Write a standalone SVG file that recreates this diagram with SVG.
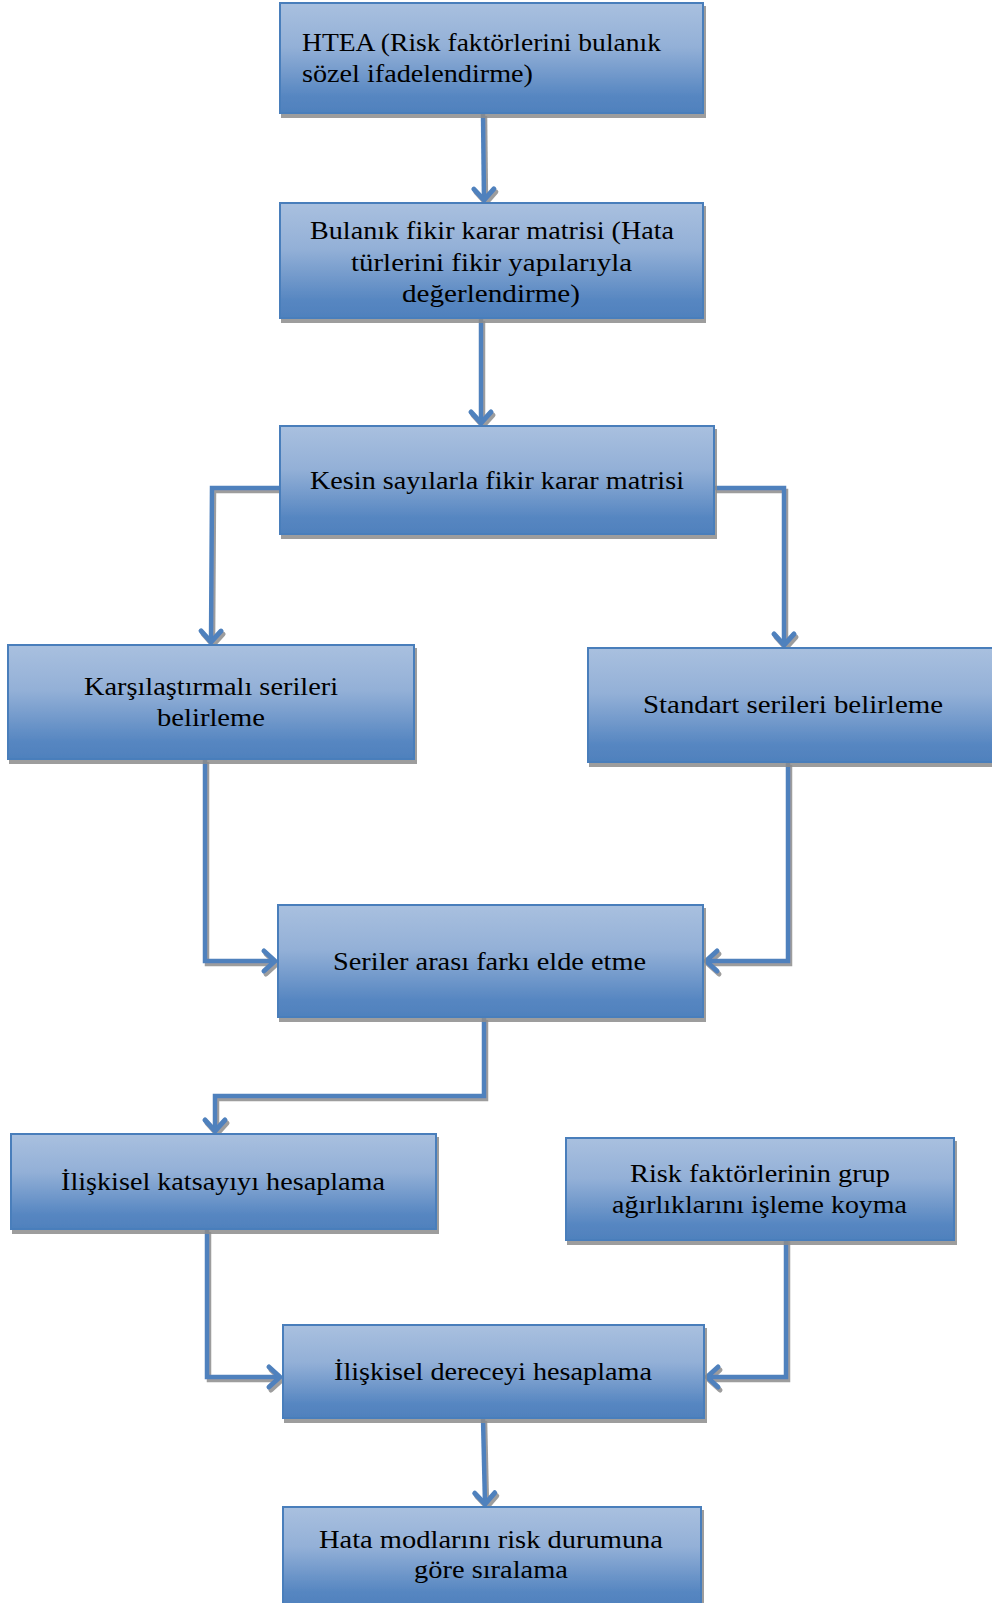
<svg xmlns="http://www.w3.org/2000/svg" width="992" height="1603" viewBox="0 0 992 1603">
<defs>
<linearGradient id="g" x1="0" y1="0" x2="0" y2="1">
<stop offset="0" stop-color="#a9c0df"/>
<stop offset="0.4" stop-color="#93b0d7"/>
<stop offset="0.85" stop-color="#5686c1"/>
<stop offset="1" stop-color="#4f81bd"/>
</linearGradient>
<filter id="sh" x="-10%" y="-10%" width="120%" height="130%">
<feDropShadow dx="2" dy="4" stdDeviation="0.6" flood-color="#8c8c8c" flood-opacity="0.85"/>
</filter>
<filter id="lsh" x="-20%" y="-20%" width="140%" height="140%">
<feDropShadow dx="2" dy="3" stdDeviation="0.6" flood-color="#8c8c8c" flood-opacity="0.85"/>
</filter>
<marker id="arr" markerUnits="userSpaceOnUse" viewBox="-16 -14 20 28" refX="0" refY="0" markerWidth="20" markerHeight="28" orient="auto">
<path d="M-11,-10 L0,0 L-11,10" fill="none" stroke="#4f81bd" stroke-width="5" stroke-linecap="round" stroke-linejoin="round"/>
</marker>
</defs>
<style>
.box{fill:url(#g);stroke:#4a7ebb;stroke-width:2;filter:url(#sh)}
.t{font-family:"Liberation Serif","Times New Roman",serif;font-size:25px;fill:#000}
.c{fill:none;stroke:#4f81bd;stroke-width:4.5;marker-end:url(#arr)}
</style>
<rect width="992" height="1603" fill="#fff"/>
<g id="connectors" filter="url(#lsh)">
<path class="c" d="M483,113 L484,200"/>
<path class="c" d="M481,318 L481,423"/>
<path class="c" d="M280,488 L212,488 L211,642"/>
<path class="c" d="M714,488 L784,488 L784,645"/>
<path class="c" d="M205,759 L205,961 L275,961"/>
<path class="c" d="M788,762 L788,961 L706,961"/>
<path class="c" d="M484,1017 L484,1096 L215,1096 L215,1131"/>
<path class="c" d="M207,1229 L207,1377 L280,1377"/>
<path class="c" d="M786,1228 L786,1377 L707,1377"/>
<path class="c" d="M483,1418 L485,1504"/>
</g>
<g id="n1">
<rect class="box" x="280" y="3" width="423" height="110"/>
<text class="t" x="302" y="51" textLength="359" lengthAdjust="spacingAndGlyphs">HTEA (Risk faktörlerini bulanık</text>
<text class="t" x="302" y="82" textLength="231" lengthAdjust="spacingAndGlyphs">sözel ifadelendirme)</text>
</g>
<g id="n2">
<rect class="box" x="280" y="203" width="423" height="115"/>
<text class="t" x="310" y="239" textLength="364" lengthAdjust="spacingAndGlyphs">Bulanık fikir karar matrisi (Hata</text>
<text class="t" x="351" y="271" textLength="281" lengthAdjust="spacingAndGlyphs">türlerini  fikir yapılarıyla</text>
<text class="t" x="402" y="302" textLength="178" lengthAdjust="spacingAndGlyphs">değerlendirme)</text>
</g>
<g id="n3">
<rect class="box" x="280" y="426" width="434" height="108"/>
<text class="t" x="310" y="489" textLength="374" lengthAdjust="spacingAndGlyphs">Kesin sayılarla fikir karar matrisi</text>
</g>
<g id="n4">
<rect class="box" x="8" y="645" width="406" height="114"/>
<text class="t" x="84" y="695" textLength="254" lengthAdjust="spacingAndGlyphs">Karşılaştırmalı serileri</text>
<text class="t" x="157" y="726" textLength="108" lengthAdjust="spacingAndGlyphs">belirleme</text>
</g>
<g id="n5">
<rect class="box" x="588" y="648" width="410" height="114"/>
<text class="t" x="643" y="713" textLength="300" lengthAdjust="spacingAndGlyphs">Standart serileri belirleme</text>
</g>
<g id="n6">
<rect class="box" x="278" y="905" width="425" height="112"/>
<text class="t" x="333" y="970" textLength="313" lengthAdjust="spacingAndGlyphs">Seriler arası farkı elde etme</text>
</g>
<g id="n7">
<rect class="box" x="11" y="1134" width="425" height="95"/>
<text class="t" x="61" y="1190" textLength="324" lengthAdjust="spacingAndGlyphs">İlişkisel katsayıyı hesaplama</text>
</g>
<g id="n8">
<rect class="box" x="566" y="1138" width="388" height="102"/>
<text class="t" x="630" y="1182" textLength="260" lengthAdjust="spacingAndGlyphs">Risk faktörlerinin grup</text>
<text class="t" x="612" y="1213" textLength="295" lengthAdjust="spacingAndGlyphs">ağırlıklarını işleme koyma</text>
</g>
<g id="n9">
<rect class="box" x="283" y="1325" width="421" height="93"/>
<text class="t" x="334" y="1380" textLength="318" lengthAdjust="spacingAndGlyphs">İlişkisel dereceyi hesaplama</text>
</g>
<g id="n10">
<rect class="box" x="283" y="1507" width="418" height="100"/>
<text class="t" x="319" y="1548" textLength="344" lengthAdjust="spacingAndGlyphs">Hata modlarını risk durumuna</text>
<text class="t" x="414" y="1578" textLength="154" lengthAdjust="spacingAndGlyphs">göre sıralama</text>
</g>
</svg>
